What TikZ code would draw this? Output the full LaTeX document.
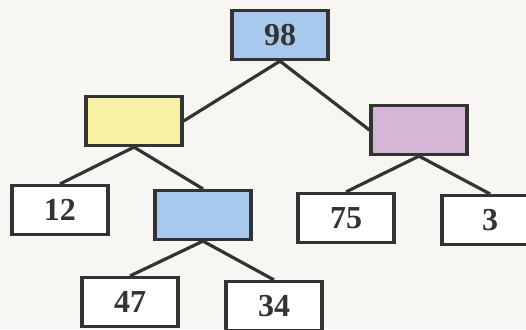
\documentclass[tikz,border=0pt]{standalone}
\usepackage{fontspec}
\setmainfont{Liberation Serif}
\usetikzlibrary{positioning}
\definecolor{paper}{HTML}{F8F6F2}
\definecolor{bluebox}{HTML}{A9C8EE}
\definecolor{yellowbox}{HTML}{F8F0A2}
\definecolor{purplebox}{HTML}{D3B6D6}
\definecolor{inkline}{HTML}{333333}
\begin{document}
\begin{tikzpicture}[x=0.5pt, y=-0.5pt,
    box/.style={draw=inkline, line width=1.6pt, fill=#1, inner sep=0pt,
        minimum width=48pt, minimum height=24.5pt,
        font=\fontsize{16}{18}\selectfont\bfseries, text=inkline},
    box/.default=white,
    edge/.style={draw=inkline, line width=1.6pt}
]
\useasboundingbox (0,0) rectangle (526,329);
\clip (0,0) rectangle (526,329);
\fill[paper] (0,0) rectangle (526,329);

\node[box=bluebox] (root) at (280, 35) {98};
\node[box=yellowbox] (left) at (134, 121) {};
\node[box=purplebox] (right) at (419, 130) {};
\node[box] (n12) at (60, 210) {12};
\node[box=bluebox] (mid) at (203, 215) {};
\node[box] (n75) at (346, 218) {75};
\node[box] (n3) at (490, 220) {3};
\node[box] (n47) at (130, 302) {47};
\node[box] (n34) at (274, 306) {34};

\draw[edge] (root.south) -- (left.east);
\draw[edge] (root.south) -- (right.west);
\draw[edge] (left.south) -- (n12.north);
\draw[edge] (left.south) -- (mid.north);
\draw[edge] (right.south) -- (n75.north);
\draw[edge] (right.south) -- (n3.north);
\draw[edge] (mid.south) -- (n47.north);
\draw[edge] (mid.south) -- (n34.north);
\end{tikzpicture}
\end{document}
